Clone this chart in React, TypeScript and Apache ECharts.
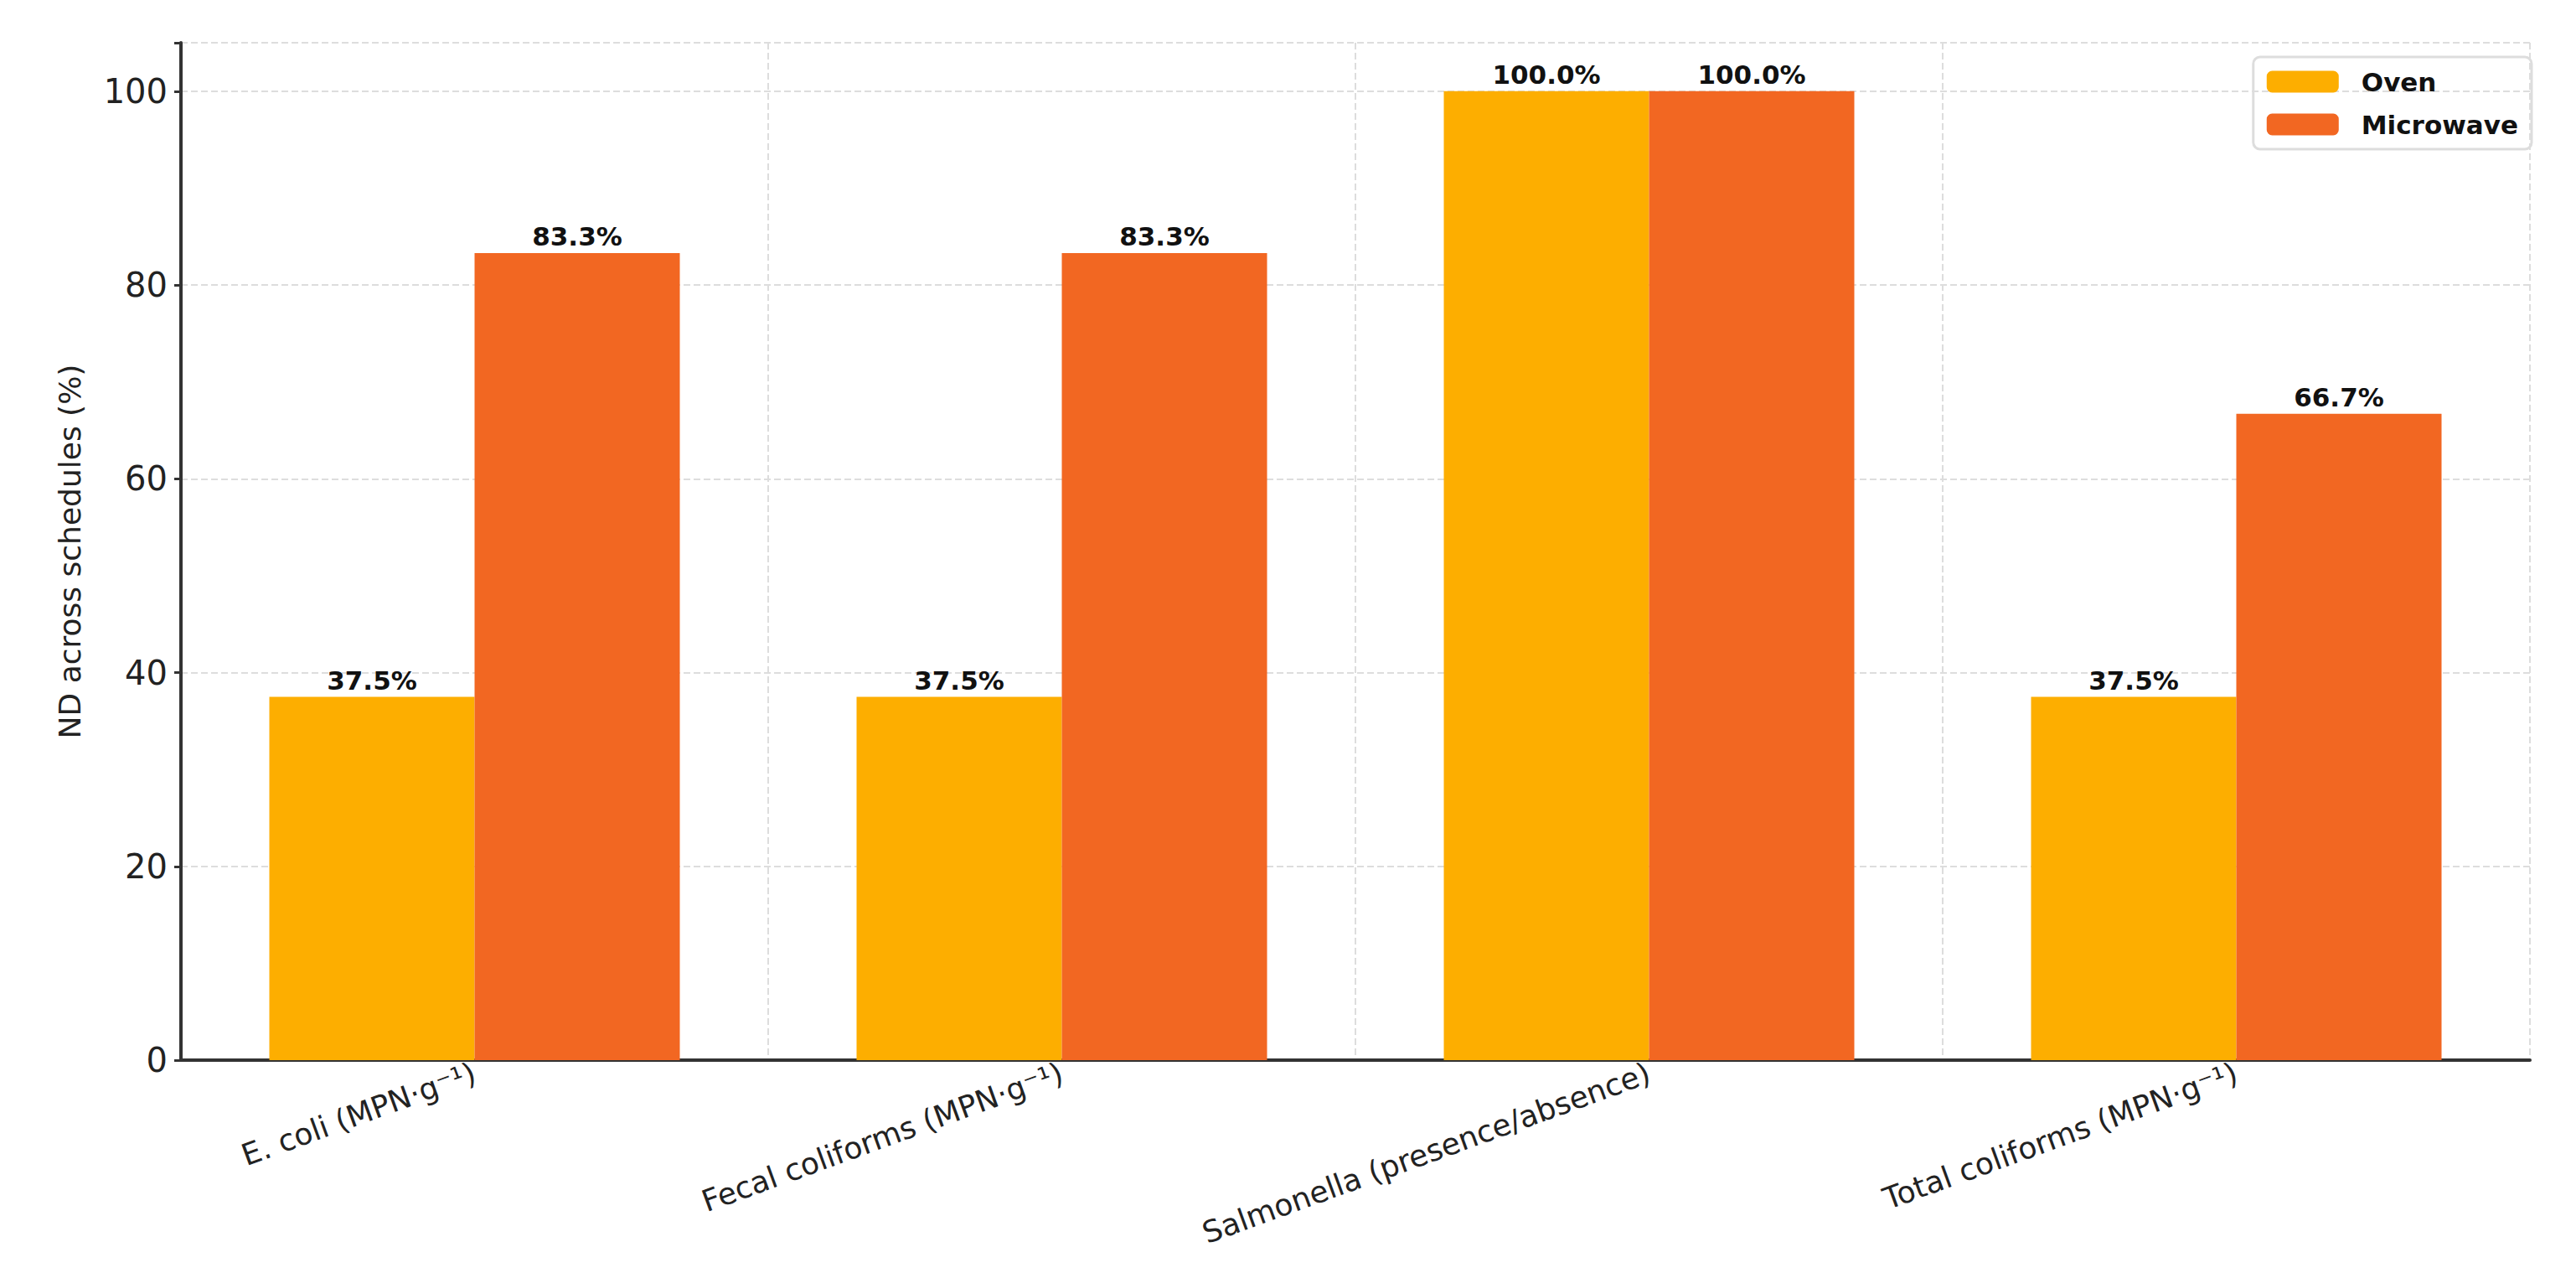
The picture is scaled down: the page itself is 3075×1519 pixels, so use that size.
import React, { useEffect, useRef } from "react";
import * as echarts from "echarts";

const categories = ["E. coli (MPN·g⁻¹)", "Fecal coliforms (MPN·g⁻¹)", "Salmonella (presence/absence)", "Total coliforms (MPN·g⁻¹)"];
const ovenValues = [37.5, 37.5, 100.0, 37.5];
const microwaveValues = [83.3, 83.3, 100.0, 66.7];
const yTicks = [0, 20, 40, 60, 80, 100];

const FONT = "DejaVu Sans";

export default function App() {
  const ref = useRef<HTMLDivElement>(null);
  useEffect(() => {
    const chart = echarts.init(ref.current!, null, { renderer: "svg" });
    const label = {
      show: true,
      position: "top",
      distance: 4,
      fontFamily: FONT,
      fontWeight: "bold",
      fontSize: 31,
      color: "#111",
      formatter: (p: any) => p.value.toFixed(1) + "%",
    };
    chart.setOption({
      animation: false,
      backgroundColor: "#fff",
      textStyle: { fontFamily: FONT },
      grid: { left: 208, right: 47, top: 43, bottom: 246, containLabel: false },
      legend: {
        right: 45,
        top: 60,
        orient: "vertical",
        itemWidth: 86,
        itemHeight: 26,
        itemGap: 20,
        padding: [14, 16, 14, 16],
        borderColor: "#ddd",
        borderWidth: 3,
        borderRadius: 8,
        textStyle: { fontFamily: FONT, fontWeight: "bold", fontSize: 31, color: "#111", padding: [0, 0, 0, 22] },
        data: ["Oven", "Microwave"],
      },
      xAxis: {
        type: "category",
        data: categories,
        axisLine: { lineStyle: { color: "#333", width: 4 } },
        axisTick: { alignWithLabel: true, length: 8, lineStyle: { color: "#333", width: 3 } },
        axisLabel: { rotate: 20, fontSize: 36, color: "#222", fontFamily: FONT, margin: 14 },
        splitLine: { show: true, interval: 0, lineStyle: { color: "#ddd", type: "dashed", width: 2 } },
      },
      yAxis: {
        type: "value",
        min: 0,
        max: 105,
        interval: 20,
        name: "ND across schedules (%)",
        nameLocation: "middle",
        nameGap: 115,
        nameTextStyle: { fontSize: 36, color: "#222", fontFamily: FONT },
        axisLine: { show: true, lineStyle: { color: "#333", width: 4 } },
        axisTick: { show: true, length: 8, lineStyle: { color: "#333", width: 3 } },
        axisLabel: {
          fontSize: 40,
          color: "#222",
          fontFamily: FONT,
          margin: 16,
          formatter: (v: number) => (yTicks.includes(v) ? String(v) : ""),
        },
        splitLine: { show: true, lineStyle: { color: "#ddd", type: "dashed", width: 2 } },
      },
      series: [
        { name: "Oven", type: "bar", data: ovenValues, barWidth: 245, barGap: "0%", itemStyle: { color: "#FDAE00" }, label },
        { name: "Microwave", type: "bar", data: microwaveValues, barWidth: 245, itemStyle: { color: "#F26722" }, label },
      ],
    });
    return () => chart.dispose();
  }, []);
  return <div ref={ref} style={{ width: 3059, height: 1503 }} />;
}
